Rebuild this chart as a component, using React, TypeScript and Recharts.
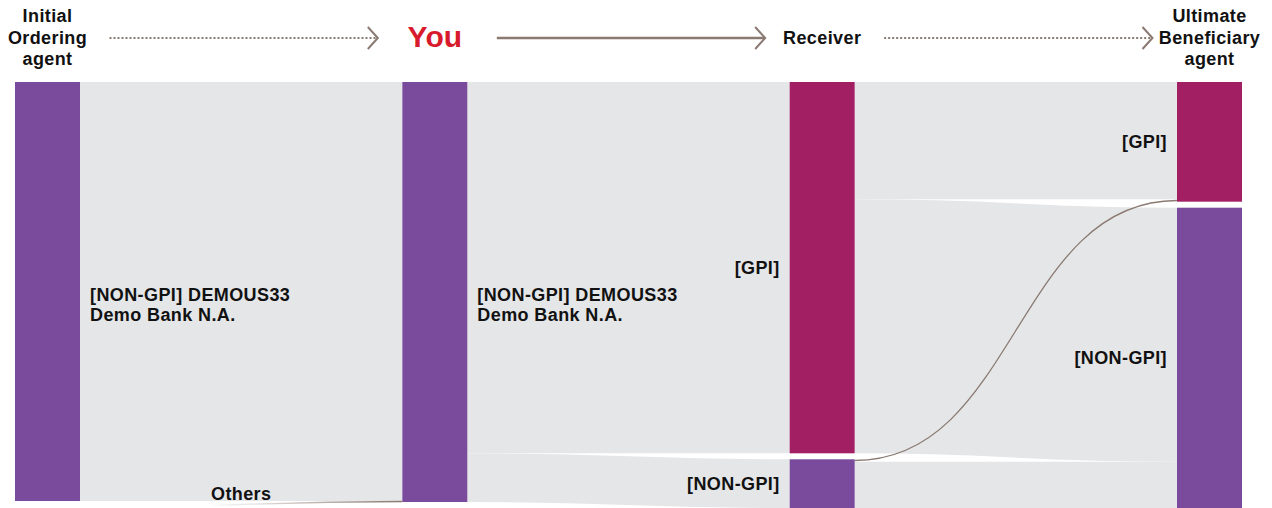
import React from "react";
import { Sankey } from "recharts";

// nodes, in column order (top to bottom inside each column)
const nodeNames = [
  "[NON-GPI] DEMOUS33\nDemo Bank N.A.",
  "Others",
  "[NON-GPI] DEMOUS33\nDemo Bank N.A.",
  "[GPI]",
  "[NON-GPI]",
  "[GPI]",
  "[NON-GPI]",
];
const nodeKinds = ["nongpi", "other", "nongpi", "gpi", "nongpi", "gpi", "nongpi"];

// links: big flows first, the tiny ones last so their lines sit on top
const linkSources = [0, 2, 2, 3, 3, 4, 1, 4];
const linkTargets = [2, 3, 4, 5, 6, 6, 2, 5];
const linkValues = [4190, 3713, 487, 1173, 2540, 463, 10, 24];

const columnTitles = [
  ["Initial", "Ordering", "agent"],
  ["You"],
  ["Receiver"],
  ["Ultimate", "Beneficiary", "agent"],
];
const arrowStyles = ["dotted", "solid", "dotted"];

const W = 1272;
const H = 508;
const TOP = 82;
const LEFT = 15;
const RIGHT = 30;
const NODE_W = 65;
const FONT = "'Liberation Sans', Arial, Helvetica, sans-serif";
const FS = 18;
const LS = 0.4;
const PURPLE = "#7a4b9c";
const MAGENTA = "#a21f64";
const LINK_GREY = "#e5e6e8";
const BROWN = "#8a7a72";

const data = {
  nodes: nodeNames.map((name, i) => ({ name, kind: nodeKinds[i] })),
  links: linkValues.map((value, i) => ({
    source: linkSources[i],
    target: linkTargets[i],
    value,
  })),
};

const step = (W - LEFT - RIGHT - NODE_W) / (columnTitles.length - 1);
const colCenter = (i: number) => LEFT + i * step + NODE_W / 2;

const SankeyNode = (props: any) => {
  const { x, y, width, height, payload } = props;
  const lines: string[] = String(payload.name).split("\n");
  const cy = y + height / 2;
  const isOther = payload.kind === "other";
  const leftSide = payload.depth <= 1;

  let tx = leftSide ? x + width + 10 : x - 10;
  let ty = lines.length > 1 ? cy + 9 : cy + 6;
  if (isOther) {
    tx = x + width + 131;
    ty = y - 7;
  }

  return (
    <g>
      {!isOther && (
        <rect
          x={x}
          y={y}
          width={width}
          height={height}
          fill={payload.kind === "gpi" ? MAGENTA : PURPLE}
        />
      )}
      <text
        x={tx}
        y={ty}
        textAnchor={leftSide ? "start" : "end"}
        fontFamily={FONT}
        fontWeight="bold"
        fontSize={FS}
        letterSpacing={LS}
        fill="#111"
      >
        {lines.map((l, i) => (
          <tspan key={i} x={tx} dy={i === 0 ? 0 : 20}>
            {l}
          </tspan>
        ))}
      </text>
    </g>
  );
};

const SankeyLink = (props: any) => {
  const {
    sourceX,
    targetX,
    sourceY,
    targetY,
    sourceControlX,
    targetControlX,
    linkWidth,
    index,
    payload,
  } = props;
  const d = `M${sourceX},${sourceY} C${sourceControlX},${sourceY} ${targetControlX},${targetY} ${targetX},${targetY}`;
  const tiny = payload.value < 50;

  if (!tiny) {
    return <path d={d} fill="none" stroke={LINK_GREY} strokeWidth={linkWidth} />;
  }

  // thin flows are drawn as a plain brown line; the one out of the first column fades in
  const fades = payload.source.depth === 0;
  const gid = `fade-${index}`;
  return (
    <g>
      {fades && (
        <defs>
          <linearGradient id={gid} gradientUnits="userSpaceOnUse" x1={sourceX} y1={0} x2={targetX} y2={0}>
            <stop offset="0%" stopColor={BROWN} stopOpacity={0} />
            <stop offset="40%" stopColor={BROWN} stopOpacity={0} />
            <stop offset="100%" stopColor={BROWN} stopOpacity={1} />
          </linearGradient>
        </defs>
      )}
      <path d={d} fill="none" stroke={fades ? `url(#${gid})` : BROWN} strokeWidth={1.3} />
    </g>
  );
};

const Header = () => (
  <svg width={W} height={TOP} style={{ position: "absolute", left: 0, top: 0 }}>
    {columnTitles.map((lines, i) => {
      const cx = colCenter(i);
      if (lines.length === 1) {
        const isYou = i === 1;
        return (
          <text
            key={i}
            x={cx}
            y={isYou ? 47 : 44}
            textAnchor="middle"
            fontFamily={FONT}
            fontWeight="bold"
            fontSize={isYou ? 30 : FS}
            letterSpacing={isYou ? 0 : LS}
            fill={isYou ? "#d71a2c" : "#111"}
          >
            {lines[0]}
          </text>
        );
      }
      return (
        <text key={i} textAnchor="middle" fontFamily={FONT} fontWeight="bold" fontSize={FS} letterSpacing={LS} fill="#111">
          {lines.map((l, j) => (
            <tspan key={j} x={cx} y={22 + j * 21.5}>
              {l}
            </tspan>
          ))}
        </text>
      );
    })}
    {arrowStyles.map((style, i) => {
      const x1 = colCenter(i) + 62;
      const x2 = colCenter(i + 1) - 57;
      const y = 38;
      return (
        <g key={i} stroke={BROWN} fill="none">
          <line
            x1={x1}
            y1={y}
            x2={x2 - 1}
            y2={y}
            strokeWidth={style === "dotted" ? 2.2 : 2.6}
            strokeDasharray={style === "dotted" ? "2 2" : undefined}
          />
          <polyline points={`${x2 - 10},${y - 11} ${x2},${y} ${x2 - 10},${y + 11}`} strokeWidth={2} />
        </g>
      );
    })}
  </svg>
);

const App = () => {
  return (
    <div style={{ position: "absolute", left: 0, top: 0, width: W, height: H, background: "#fff" }}>
      <Header />
      <div style={{ position: "absolute", left: 0, top: 0 }}>
        <Sankey
          width={W}
          height={H}
          data={data}
          nodeWidth={NODE_W}
          nodePadding={6}
          iterations={0}
          margin={{ top: TOP, left: LEFT, right: RIGHT, bottom: 0 }}
          node={SankeyNode}
          link={SankeyLink}
        />
      </div>
    </div>
  );
};

export default App;
